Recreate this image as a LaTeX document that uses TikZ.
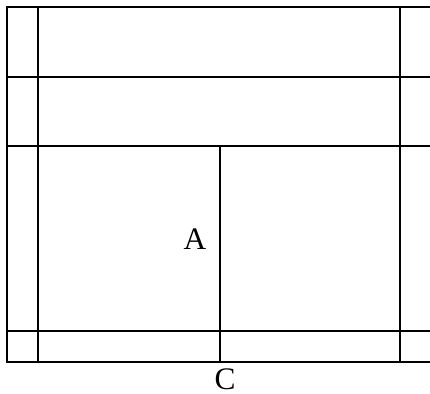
\documentclass[tikz,border=0pt]{standalone}
\usepackage{fontspec}
\setmainfont{Liberation Serif}
\usepackage{tikz}

\begin{document}
\begin{tikzpicture}[x=0.75pt,y=-0.75pt]
  \useasboundingbox (0,0) rectangle (430,394);
  \tikzset{gridline/.style={line width=1.5pt,line cap=rect},
    lbl/.style={font=\fontsize{23.5}{28}\selectfont,inner sep=0pt}}
  % horizontal rules
  \foreach \y in {7,77,146,331,362}
    \draw[gridline] (7,\y) -- (432,\y);
  % vertical rules
  \foreach \x in {7,38,400}
    \draw[gridline] (\x,7) -- (\x,362);
  \draw[gridline] (220,146) -- (220,362);
  \node[lbl] (A) at (195,239) {A};
  \node[lbl] (C) at (225,379) {C};
\end{tikzpicture}
\end{document}
